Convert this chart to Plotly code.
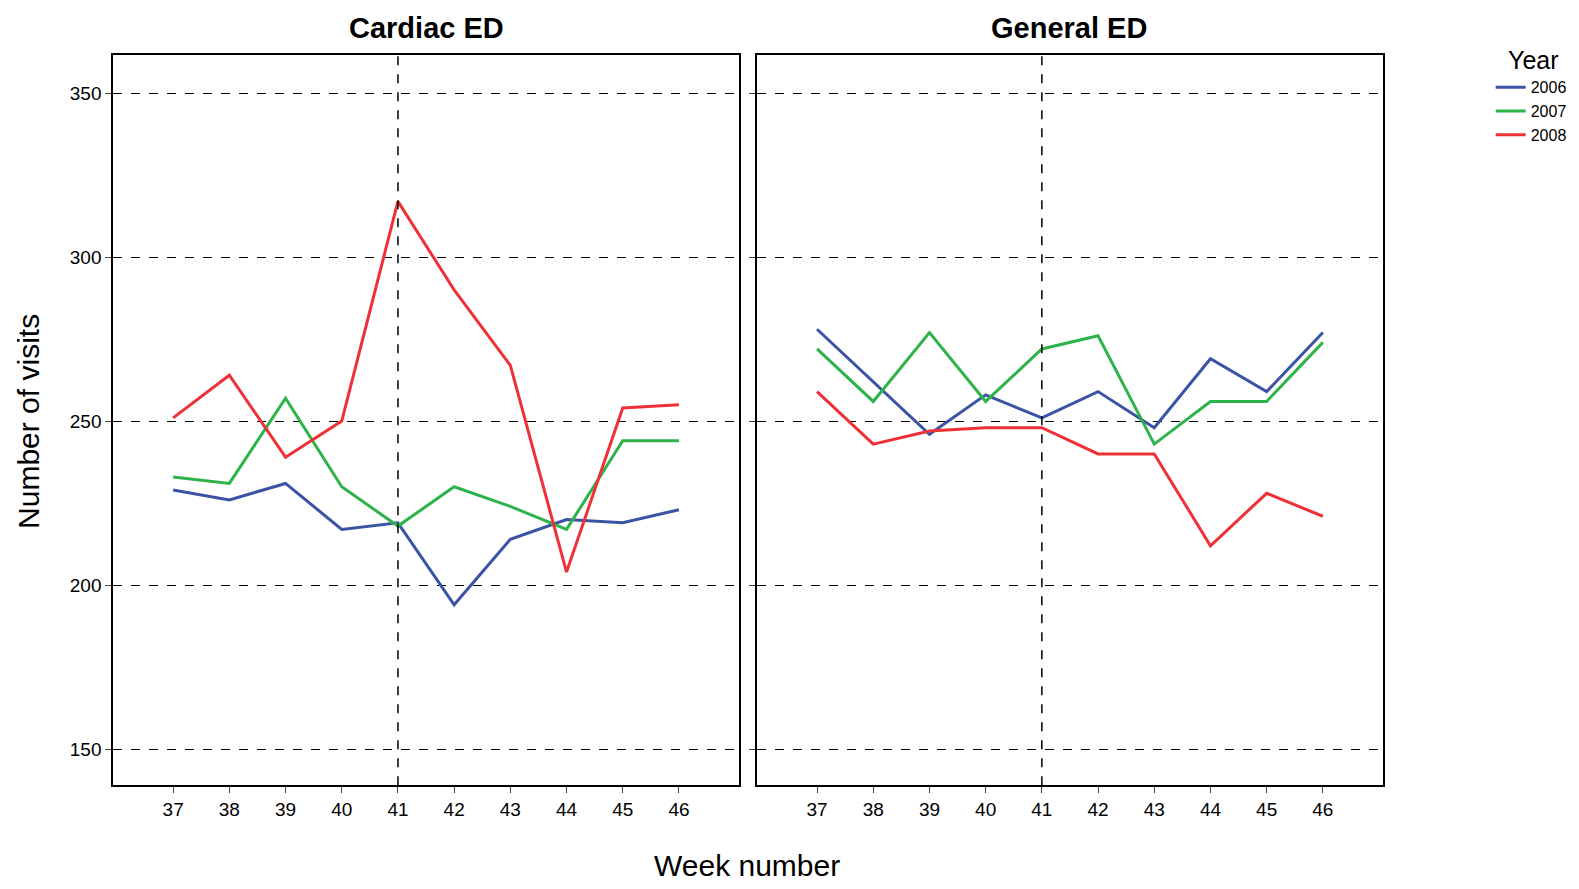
import plotly.graph_objects as go

weeks = [37, 38, 39, 40, 41, 42, 43, 44, 45, 46]
years = ["2006", "2007", "2008"]
colors = ["#3a53a4", "#2db34a", "#ee3137"]
cardiac = {
    "2006": [229, 226, 231, 217, 219, 194, 214, 220, 219, 223],
    "2007": [233, 231, 257, 230, 218, 230, 224, 217, 244, 244],
    "2008": [251, 264, 239, 250, 317, 290, 267, 204, 254, 255],
}
general = {
    "2006": [278, 262, 246, 258, 251, 259, 248, 269, 259, 277],
    "2007": [272, 256, 277, 256, 272, 276, 243, 256, 256, 274],
    "2008": [259, 243, 247, 248, 248, 240, 240, 212, 228, 221],
}

fig = go.Figure()
for y, c in zip(years, colors):
    fig.add_trace(go.Scatter(x=weeks, y=cardiac[y], mode="lines", name=y,
                             line=dict(color=c, width=3), xaxis="x", yaxis="y", legendgroup=y))
    fig.add_trace(go.Scatter(x=weeks, y=general[y], mode="lines", name=y, showlegend=False,
                             line=dict(color=c, width=3), xaxis="x2", yaxis="y2", legendgroup=y))

Y0, Y1 = 0.1257, 0.9471
font = dict(family="Liberation Sans, Arial", size=19, color="black")
common_x = dict(range=[35.93, 47.07], tickvals=weeks, showgrid=False, zeroline=False,
                showline=True, linecolor="black", linewidth=1.5, mirror=True, automargin=False,
                ticks="outside", ticklen=6, tickfont=font)
common_y = dict(range=[139, 361.6], tickvals=[150, 200, 250, 300, 350], showgrid=True,
                gridcolor="black", griddash="dash", gridwidth=1.3, zeroline=False,
                showline=True, linecolor="black", linewidth=1.5, mirror=True, automargin=False,
                ticks="outside", ticklen=6, tickfont=font)
fig.update_layout(
    width=1579, height=889, margin=dict(l=0, r=0, t=0, b=0, autoexpand=False),
    plot_bgcolor="white", paper_bgcolor="white", font=font,
    xaxis=dict(domain=[0.0665, 0.4630], anchor="y", **common_x),
    xaxis2=dict(domain=[0.4743, 0.8708], anchor="y2", **common_x),
    yaxis=dict(domain=[Y0, Y1], anchor="x", **common_y),
    yaxis2=dict(domain=[Y0, Y1], anchor="x2", showticklabels=False, **common_y),
    legend=dict(x=0.939, y=0.93, xanchor="left", yanchor="top", font=dict(size=16),
                tracegroupgap=0, itemwidth=30),
    annotations=[
        dict(text="<b>Cardiac ED</b>", x=0.265, y=0.957, xref="paper", yref="paper", xanchor="center",
             showarrow=False, yanchor="bottom", font=dict(size=29)),
        dict(text="<b>General ED</b>", x=0.672, y=0.957, xref="paper", yref="paper", xanchor="center",
             showarrow=False, yanchor="bottom", font=dict(size=29)),
        dict(text="Week number", x=0.468, y=0.015, xref="paper", yref="paper", xanchor="center",
             showarrow=False, yanchor="bottom", font=dict(size=30)),
        dict(text="Number of visits", x=0.013, y=0.535, xref="paper", yref="paper", xanchor="center",
             showarrow=False, textangle=-90, font=dict(size=30)),
        dict(text="Year", x=0.966, y=0.96, xref="paper", yref="paper", xanchor="center",
             showarrow=False, font=dict(size=25)),
    ],
    shapes=[
        dict(type="line", xref="x", yref="paper", x0=41, x1=41, y0=Y0, y1=Y1,
             line=dict(color="black", width=1.5, dash="dash")),
        dict(type="line", xref="x2", yref="paper", x0=41, x1=41, y0=Y0, y1=Y1,
             line=dict(color="black", width=1.5, dash="dash")),
    ],
)
fig.write_html("out.html")
